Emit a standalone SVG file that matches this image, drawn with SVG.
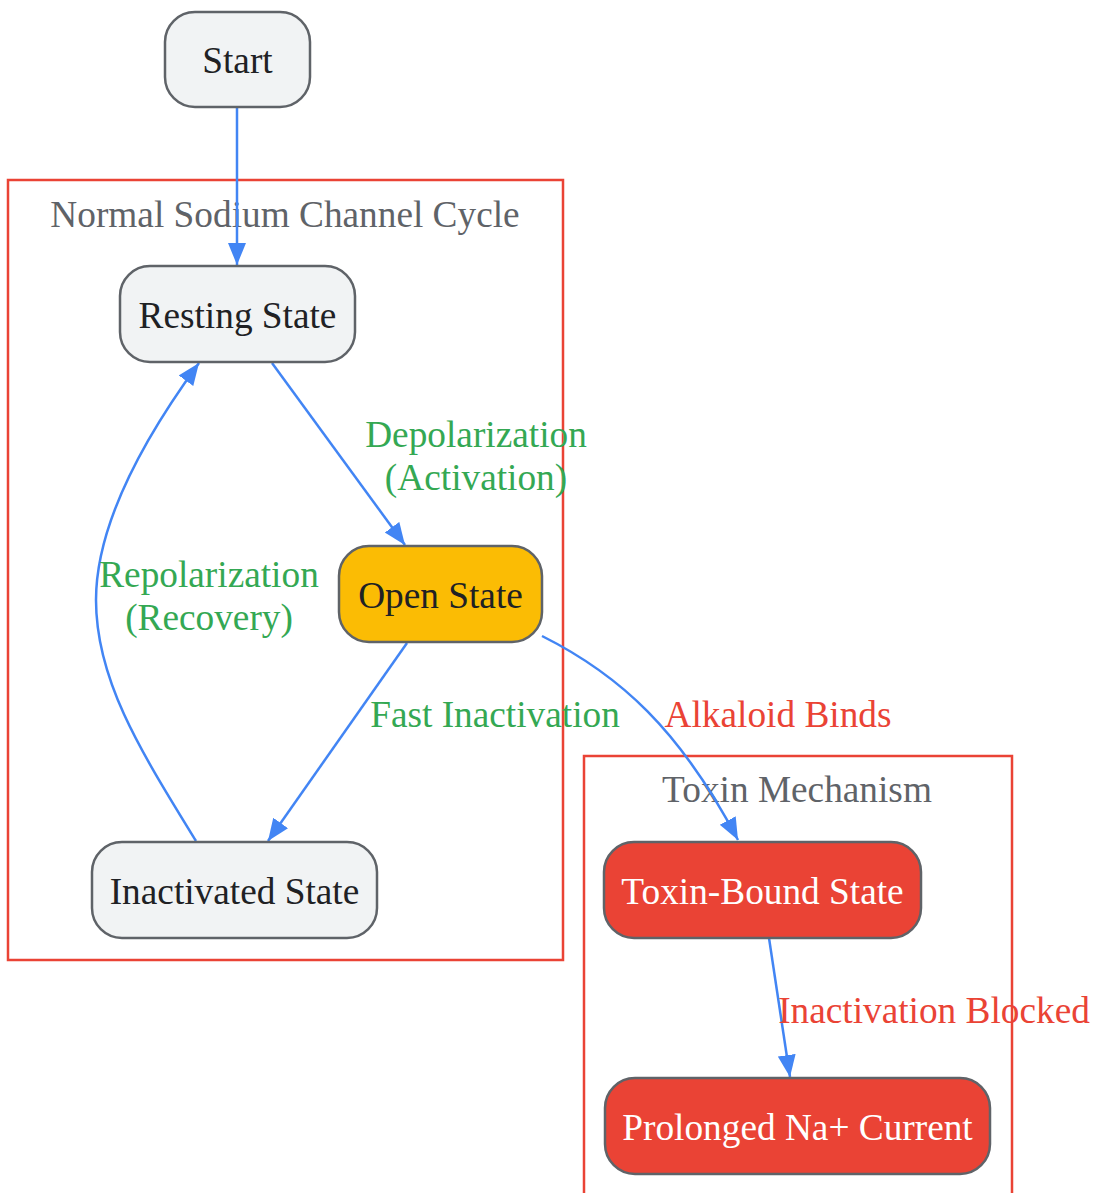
<svg xmlns="http://www.w3.org/2000/svg" width="1095" height="1193" viewBox="0 0 1095 1193">
<style>
text{font-family:"Liberation Serif","Times New Roman",serif;font-size:37.3px;text-anchor:middle}
.node rect{stroke:#5f6368;stroke-width:2.5}
.n{fill:#f1f3f4}
.o{fill:#fbbc04}
.t{fill:#ea4335}
.dark{fill:#202124}
.light{fill:#ffffff}
.cl{fill:none;stroke:#ea4335;stroke-width:2.5}
.ct{fill:#5f6368}
.e{fill:none;stroke:#4285f4;stroke-width:2.5}
.gl{fill:#34a853}
.rl{fill:#ea4335}
</style>
<defs>
<marker id="ah" markerUnits="userSpaceOnUse" markerWidth="24" markerHeight="20" refX="22" refY="9" orient="auto">
<path d="M0,0 L22,9 L0,18 Z" fill="#4285f4"/>
</marker>
</defs>
<g id="clusters">
<g id="cluster-normal">
<rect class="cl" x="8" y="180" width="555" height="780"/>
<text class="ct" x="285" y="227">Normal Sodium Channel Cycle</text>
</g>
<g id="cluster-toxin">
<rect class="cl" x="584" y="756" width="428" height="445"/>
<text class="ct" x="797" y="802">Toxin Mechanism</text>
</g>
</g>
<g id="connectors">
<path class="e" d="M237,107 L237,265" marker-end="url(#ah)"/>
<path class="e" d="M272,363 L405,545" marker-end="url(#ah)"/>
<path class="e" d="M407,643 L268,841" marker-end="url(#ah)"/>
<path class="e" d="M196,841 C140,750 96,680 96,600 C96,520 150,430 199,363" marker-end="url(#ah)"/>
<path class="e" d="M542,636 C620,675 680,730 738,840" marker-end="url(#ah)"/>
<path class="e" d="M769,938 L790,1077" marker-end="url(#ah)"/>
</g>
<g id="edge-labels">
<text class="gl" x="476" y="447">Depolarization</text>
<text class="gl" x="476" y="490">(Activation)</text>
<text class="gl" x="209" y="587">Repolarization</text>
<text class="gl" x="209" y="630">(Recovery)</text>
<text class="gl" x="495" y="727">Fast Inactivation</text>
<text class="rl" x="778" y="727">Alkaloid Binds</text>
<text class="rl" x="934" y="1023">Inactivation Blocked</text>
</g>
<g id="node-start" class="node">
<rect class="n" x="165" y="12" width="145" height="95" rx="30"/>
<text class="dark" x="237.5" y="73">Start</text>
</g>
<g id="node-resting" class="node">
<rect class="n" x="120" y="266" width="235" height="96" rx="30"/>
<text class="dark" x="237.5" y="328">Resting State</text>
</g>
<g id="node-open" class="node">
<rect class="o" x="339" y="546" width="203" height="96" rx="30"/>
<text class="dark" x="440.5" y="608">Open State</text>
</g>
<g id="node-inactivated" class="node">
<rect class="n" x="92" y="842" width="285" height="96" rx="30"/>
<text class="dark" x="234.5" y="904">Inactivated State</text>
</g>
<g id="node-toxin-bound" class="node">
<rect class="t" x="604" y="842" width="317" height="96" rx="30"/>
<text class="light" x="762.5" y="904">Toxin-Bound State</text>
</g>
<g id="node-prolonged" class="node">
<rect class="t" x="605" y="1078" width="385" height="96" rx="30"/>
<text class="light" x="797.5" y="1140">Prolonged Na+ Current</text>
</g>
</svg>
